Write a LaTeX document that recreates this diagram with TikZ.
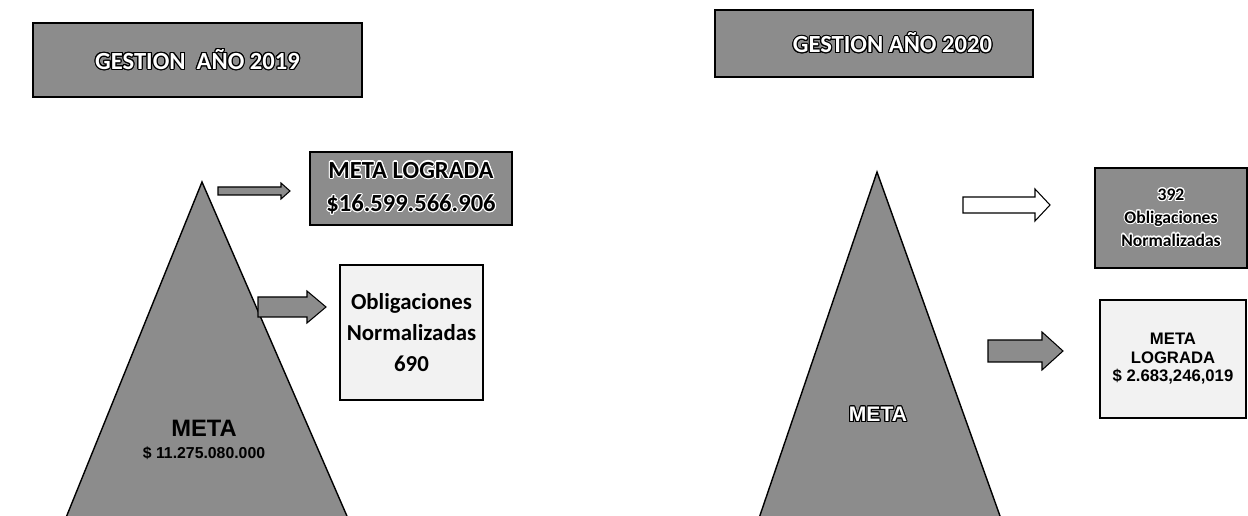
\documentclass[tikz,border=0pt]{standalone}
\usepackage{fontspec}
\setmainfont{Carlito}
\newfontfamily\arialfont{Liberation Sans}
\usepackage{contour}
\contourlength{0.6pt}
\usetikzlibrary{shapes,arrows}

% block arrow: [style]{x start}{x head}{x tip}{y centre}{half shaft}{half head}
\newcommand{\blockarrow}[7][]{%
  \draw[#1] (#2,#5-#6) -- (#3,#5-#6) -- (#3,#5-#7) -- (#4,#5) -- (#3,#5+#7) -- (#3,#5+#6) -- (#2,#5+#6) -- cycle;}

\begin{document}
\begin{tikzpicture}[x=0.02cm,y=-0.02cm]
        % Define block styles
        \tikzstyle{titlebox} = [rectangle, draw, fill=black!45, line width=0.9pt, text=white, font=\bfseries\fontsize{14}{16}\selectfont]
        \tikzstyle{darkbox} = [rectangle, draw, fill=black!45, line width=0.9pt, align=center, font=\bfseries]
        \tikzstyle{lightbox} = [rectangle, draw, fill=black!5, line width=0.9pt, align=center, font=\bfseries]
        \tikzstyle{pyramid} = [draw, fill=black!45, line width=0.8pt]
        \tikzstyle{fatarrow} = [draw, fill=black!45, line width=0.6pt]

        \useasboundingbox (0,0) rectangle (1248,516);

        % Pyramids
        \draw[pyramid] (202,182) -- (61,530) -- (353,530) -- cycle;
        \draw[pyramid] (877,172) -- (755,530) -- (1005,530) -- cycle;

        % Nodes
        \node [titlebox, minimum width=6.58cm, minimum height=1.48cm] (titulo19) at (197.5,60) {\contour{black}{GESTION\hspace{0.45em}AÑO 2019}\hspace{12pt}};
        \node [titlebox, minimum width=6.36cm, minimum height=1.34cm] (titulo20) at (874,43.5) {\hspace{21pt}\contour{black}{GESTION AÑO 2020}};

        \node [darkbox, minimum width=4.04cm, minimum height=1.46cm, font=\bfseries\fontsize{14}{19}\selectfont] (logro19) at (411,188.5) {\contour{white}{META LOGRADA}\\\contour{white}{\$16.599.566.906}};
        \node [lightbox, minimum width=2.86cm, minimum height=2.7cm, font=\bfseries\fontsize{13}{17.5}\selectfont] (oblig19) at (411.5,332.5) {Obligaciones\\Normalizadas\\690};
        \node [align=center, font=\arialfont\bfseries\fontsize{13.5}{14}\selectfont] (meta19) at (204,440) {META\\[-1pt]{\fontsize{9}{10}\selectfont \$ 11.275.080.000}};

        \node [darkbox, minimum width=3.04cm, minimum height=2cm, font=\bfseries\fontsize{10}{13}\selectfont] (oblig20) at (1171,218) {\contour{white}{392}\\\contour{white}{Obligaciones}\\\contour{white}{Normalizadas}};
        \node [lightbox, minimum width=2.92cm, minimum height=2.36cm, font=\arialfont\bfseries\fontsize{9.5}{10.5}\selectfont] (logro20) at (1173,359) {META\\LOGRADA\\\$ 2.683,246,019};
        \node [text=white, font=\arialfont\bfseries\fontsize{12}{14}\selectfont] (meta20) at (878,415) {\contour{black}{META}};

        % Arrows
        \blockarrow[fatarrow]{218}{281}{290}{191}{4}{8}
        \blockarrow[fatarrow]{258}{307}{326}{307}{10}{16}
        \blockarrow[draw, fill=white, line width=0.6pt]{963}{1035}{1050}{205}{8}{16}
        \blockarrow[fatarrow]{988}{1042}{1063}{351}{11}{19}

    \end{tikzpicture}
\end{document}
